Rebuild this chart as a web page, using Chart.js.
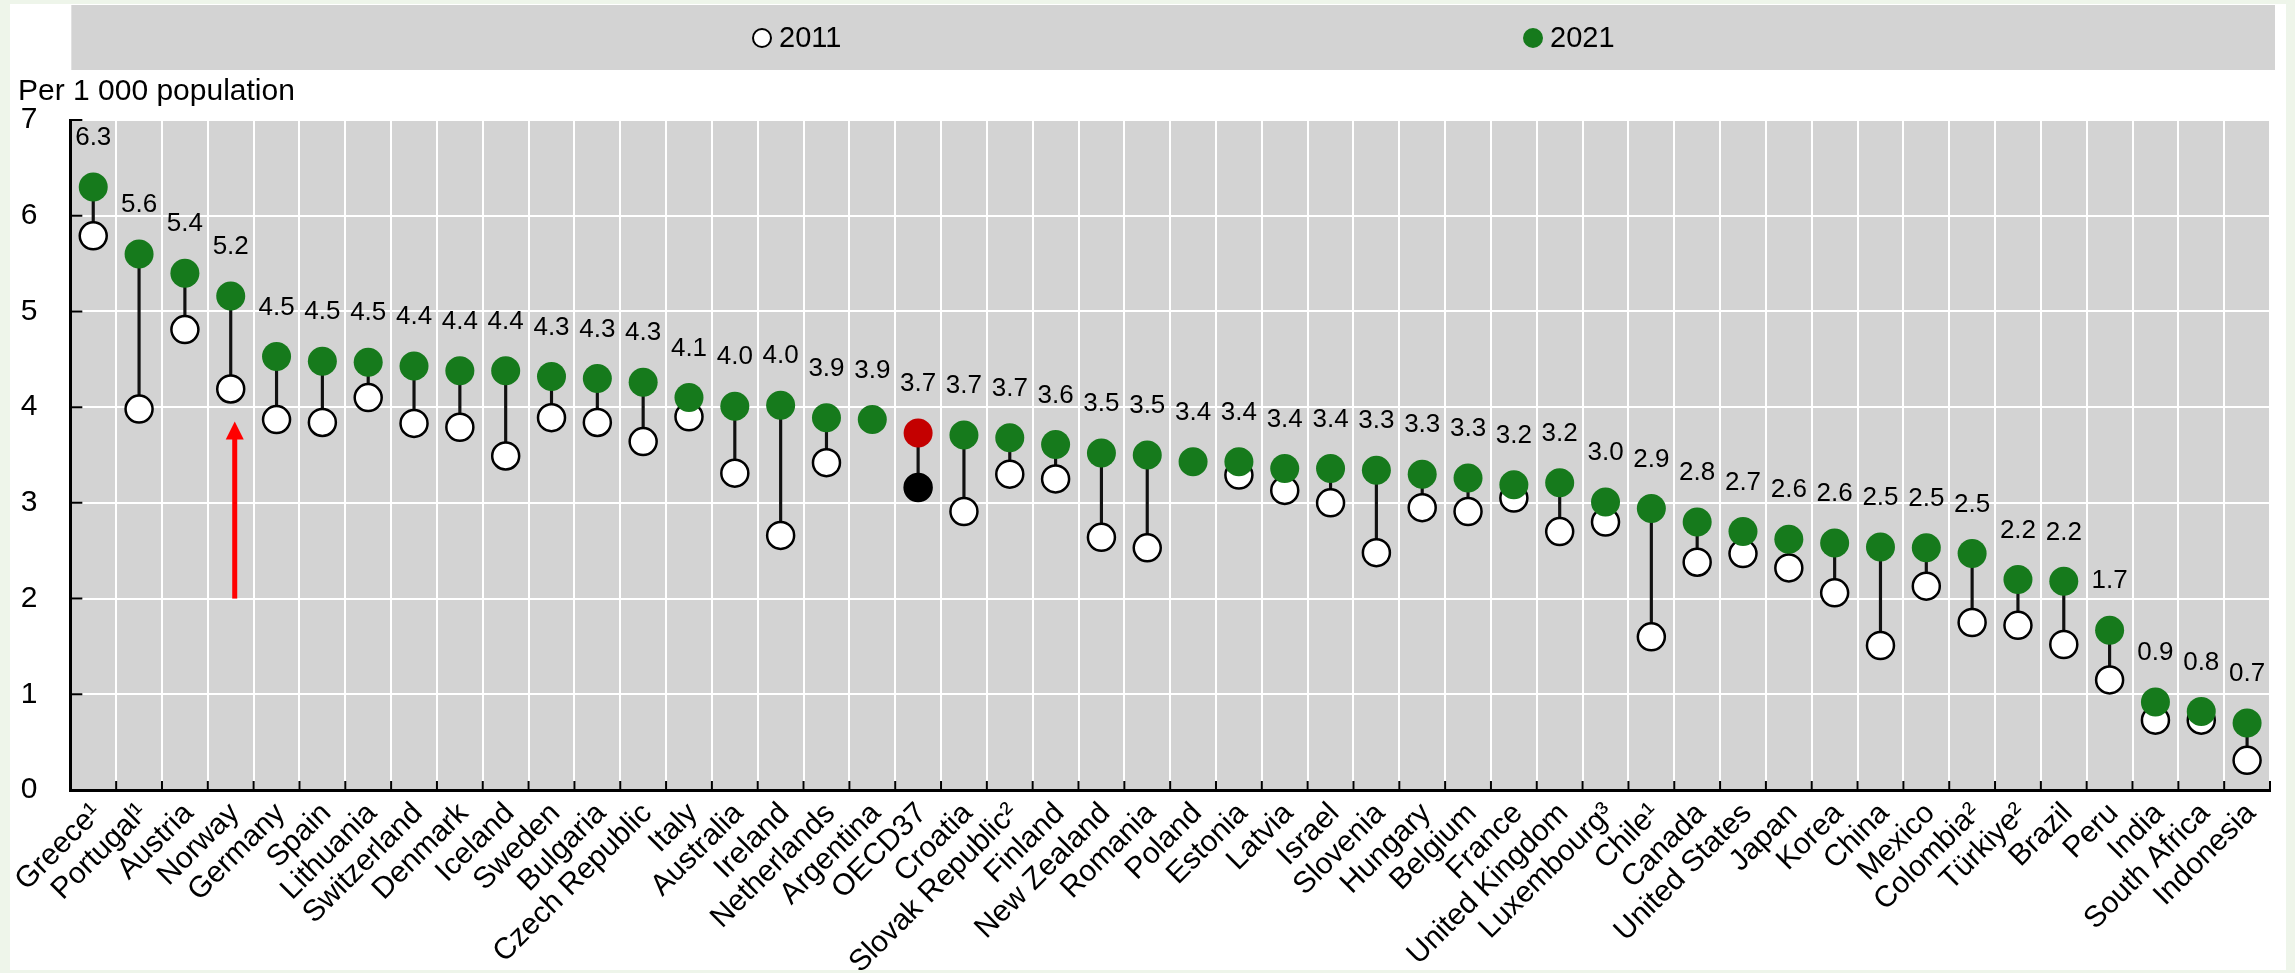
<!DOCTYPE html>
<html>
<head>
<meta charset="utf-8">
<script src="https://cdn.jsdelivr.net/npm/chart.js@4.4.0/dist/chart.umd.min.js"></script>
<style>
  html, body { margin: 0; padding: 0; background: #eef5ea; }
  .panel { position: absolute; left: 10px; top: 4px; width: 2276px; height: 966px; background: #fff; }
  canvas { display: block; }
</style>
</head>
<body>
<div class="panel"><canvas id="chart" width="2276" height="966"></canvas></div>
<script>
const countries = [
  'Greece¹', 'Portugal¹', 'Austria', 'Norway', 'Germany', 'Spain', 'Lithuania', 'Switzerland',
  'Denmark', 'Iceland', 'Sweden', 'Bulgaria', 'Czech Republic', 'Italy', 'Australia', 'Ireland',
  'Netherlands', 'Argentina', 'OECD37', 'Croatia', 'Slovak Republic²', 'Finland', 'New Zealand',
  'Romania', 'Poland', 'Estonia', 'Latvia', 'Israel', 'Slovenia', 'Hungary', 'Belgium', 'France',
  'United Kingdom', 'Luxembourg³', 'Chile¹', 'Canada', 'United States', 'Japan', 'Korea', 'China',
  'Mexico', 'Colombia²', 'Türkiye²', 'Brazil', 'Peru', 'India', 'South Africa', 'Indonesia'
];
const y2011 = [
  5.79, 3.98, 4.81, 4.19, 3.87, 3.84, 4.10, 3.83, 3.79, 3.49, 3.89, 3.84, 3.64, 3.90, 3.31, 2.66,
  3.42, null, 3.16, 2.91, 3.30, 3.25, 2.64, 2.53, null, 3.29, 3.13, 3.00, 2.48, 2.95, 2.91, 3.05,
  2.70, 2.80, 1.60, 2.38, 2.47, 2.32, 2.06, 1.51, 2.13, 1.75, 1.72, 1.52, 1.15, 0.73, 0.73, 0.31
];
const y2021 = [
  6.30, 5.60, 5.40, 5.16, 4.53, 4.48, 4.47, 4.43, 4.38, 4.38, 4.32, 4.30, 4.26, 4.10, 4.01, 4.02,
  3.89, 3.87, 3.73, 3.71, 3.68, 3.61, 3.52, 3.50, 3.43, 3.43, 3.36, 3.36, 3.34, 3.30, 3.26, 3.19,
  3.21, 3.01, 2.94, 2.80, 2.70, 2.62, 2.58, 2.54, 2.53, 2.47, 2.20, 2.18, 1.67, 0.92, 0.82, 0.70
];
const yTicks = [0, 1, 2, 3, 4, 5, 6, 7];
const seriesNames = ['2011', '2021'];
const unitLabel = 'Per 1 000 population';
const highlight = 'OECD37';
// red arrow pointing at Norway's 2011 value
const arrowCountry = 'Norway';
const arrowFrom = 2.0;
const arrowTo = 3.85;

const FONT = '"Liberation Sans", Arial, sans-serif';
const GREEN = '#167a1c';
const RED = '#c40000';
const GREY = '#d3d3d3';

const plotBackground = {
  id: 'plotBackground',
  beforeDraw(chart) {
    const { ctx, chartArea: a } = chart;
    ctx.save();
    ctx.fillStyle = GREY;
    ctx.fillRect(a.left, a.top, a.right - a.left, a.bottom - a.top);
    ctx.restore();
  }
};

const innerTicks = {
  id: 'innerTicks',
  beforeDatasetsDraw(chart) {
    const { ctx, scales: { x, y } } = chart;
    ctx.save();
    ctx.strokeStyle = '#000';
    ctx.lineWidth = 2;
    ctx.beginPath();
    yTicks.forEach(v => {
      const py = y.getPixelForValue(v);
      ctx.moveTo(x.left, py);
      ctx.lineTo(x.left + 12, py);
    });
    for (let i = 0; i <= countries.length; i++) {
      const px = x.getPixelForValue(i - 0.5);
      ctx.moveTo(px, y.bottom);
      ctx.lineTo(px, y.bottom - 9);
    }
    ctx.stroke();
    ctx.restore();
  }
};

const valueLabels = {
  id: 'valueLabels',
  afterDatasetsDraw(chart) {
    const { ctx } = chart;
    const meta = chart.getDatasetMeta(2);
    ctx.save();
    ctx.font = '26px ' + FONT;
    ctx.fillStyle = '#000';
    ctx.textAlign = 'center';
    ctx.textBaseline = 'middle';
    meta.data.forEach((pt, i) => {
      if (y2021[i] == null) return;
      ctx.fillText(y2021[i].toFixed(1), pt.x, pt.y - 49);
    });
    ctx.restore();
  }
};

const arrow = {
  id: 'arrow',
  afterDatasetsDraw(chart) {
    const { ctx, scales: { x, y } } = chart;
    const px = x.getPixelForValue(countries.indexOf(arrowCountry)) + 4;
    const top = y.getPixelForValue(arrowTo);
    const bottom = y.getPixelForValue(arrowFrom);
    ctx.save();
    ctx.fillStyle = '#ff0000';
    ctx.fillRect(px - 2.5, top + 16, 5, bottom - top - 16);
    ctx.beginPath();
    ctx.moveTo(px, top);
    ctx.lineTo(px - 9, top + 18);
    ctx.lineTo(px + 9, top + 18);
    ctx.closePath();
    ctx.fill();
    ctx.restore();
  }
};

const header = {
  id: 'header',
  afterDraw(chart) {
    const { ctx, chartArea: a } = chart;
    ctx.save();
    ctx.fillStyle = GREY;
    ctx.fillRect(a.left + 1, 1, a.right - a.left + 4, 65);

    ctx.font = '29px ' + FONT;
    ctx.textBaseline = 'middle';
    ctx.textAlign = 'left';
    const items = [
      { x: 752, fill: '#fff', stroke: '#000' },
      { x: 1523, fill: GREEN, stroke: GREEN }
    ];
    items.forEach((it, i) => {
      ctx.beginPath();
      ctx.arc(it.x, 34, 9, 0, Math.PI * 2);
      ctx.fillStyle = it.fill;
      ctx.fill();
      ctx.lineWidth = 2;
      ctx.strokeStyle = it.stroke;
      ctx.stroke();
      ctx.fillStyle = '#000';
      ctx.fillText(seriesNames[i], it.x + 17, 35);
    });

    ctx.font = '30px ' + FONT;
    ctx.textBaseline = 'alphabetic';
    ctx.fillText(unitLabel, 8, 96);
    ctx.restore();
  }
};

const connectors = countries.map((c, i) => (y2011[i] == null ? null : [y2011[i], y2021[i]]));

new Chart(document.getElementById('chart'), {
  type: 'bar',
  data: {
    labels: countries,
    datasets: [
      {
        label: 'change',
        data: connectors,
        backgroundColor: '#111',
        barThickness: 2.5,
        order: 3
      },
      {
        type: 'line',
        label: seriesNames[0],
        data: y2011,
        showLine: false,
        pointRadius: 13.5,
        pointBorderWidth: 2.5,
        pointBackgroundColor: countries.map(c => (c === highlight ? '#000' : '#fff')),
        pointBorderColor: '#000',
        order: 2
      },
      {
        type: 'line',
        label: seriesNames[1],
        data: y2021,
        showLine: false,
        pointRadius: 14.5,
        pointBorderWidth: 0,
        pointBackgroundColor: countries.map(c => (c === highlight ? RED : GREEN)),
        pointBorderColor: countries.map(c => (c === highlight ? RED : GREEN)),
        order: 1
      }
    ]
  },
  options: {
    responsive: false,
    animation: false,
    devicePixelRatio: 1,
    layout: { padding: { top: 116, right: 13, left: 0, bottom: 0 } },
    plugins: {
      legend: { display: false },
      tooltip: { enabled: false }
    },
    scales: {
      x: {
        grid: { color: '#fff', lineWidth: 2, drawTicks: false, offset: true },
        border: { display: true, color: '#000', width: 3 },
        ticks: {
          color: '#000',
          font: { size: 30, family: FONT },
          minRotation: 45,
          maxRotation: 45,
          autoSkip: false,
          padding: 6,
          labelOffset: 4
        },
        afterFit(scale) { scale.height = 180; }
      },
      y: {
        min: 0,
        max: 7,
        grid: { color: '#fff', lineWidth: 2, drawTicks: false },
        border: { display: true, color: '#000', width: 3 },
        ticks: {
          stepSize: 1,
          color: '#000',
          padding: 33,
          font: { size: 30, family: FONT }
        },
        afterFit(scale) { scale.width = 59; }
      }
    }
  },
  plugins: [plotBackground, innerTicks, valueLabels, arrow, header]
});
</script>
</body>
</html>
